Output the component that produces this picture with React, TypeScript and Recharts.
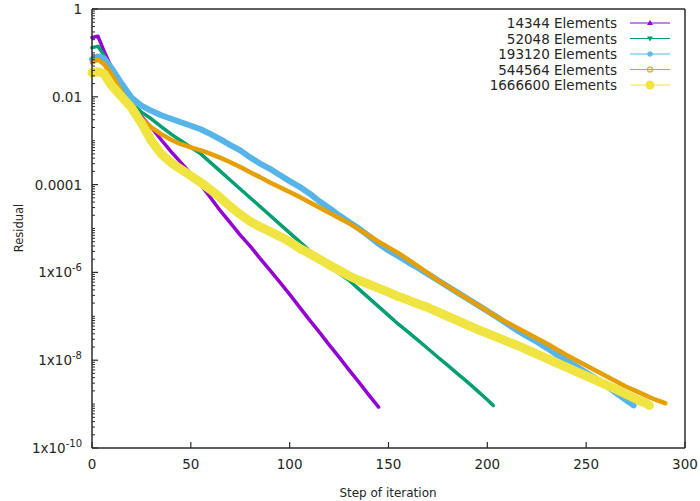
import React from 'react';
import { LineChart, Line, XAxis, YAxis } from 'recharts';

// ---------- data ----------
const SERIES_NAMES = ['14344 Elements', '52048 Elements', '193120 Elements', '544564 Elements', '1666600 Elements'];
const SERIES_COLORS = ['#9400d3', '#009e73', '#56b4e9', '#e69f00', '#f0e442'];

const STEPS_14344 = [0, 3, 6, 10, 15, 20, 25, 30, 35, 40, 45, 50, 55, 60, 65, 70, 75, 80, 85, 90, 95, 100, 105, 110, 115, 120, 125, 130, 135, 140, 145];
const RES_14344 = [2.24e-1, 2.4e-1, 1.12e-1, 4.47e-2, 1.58e-2, 6.31e-3, 3.55e-3, 2.0e-3, 1.05e-3, 5.62e-4, 3.16e-4, 1.78e-4, 1.0e-4, 5.01e-5, 2.51e-5, 1.35e-5, 7.08e-6, 3.98e-6, 2.09e-6, 1.12e-6, 6.03e-7, 3.16e-7, 1.62e-7, 8.32e-8, 4.37e-8, 2.24e-8, 1.17e-8, 6.03e-9, 3.16e-9, 1.62e-9, 8.51e-10];

const STEPS_52048 = [0, 3, 6, 10, 15, 20, 25, 30, 35, 40, 45, 50, 55, 60, 65, 70, 75, 80, 85, 90, 95, 100, 105, 110, 115, 120, 125, 130, 135, 140, 145, 150, 155, 160, 165, 170, 175, 180, 185, 190, 195, 200, 203];
const RES_52048 = [1.32e-1, 1.41e-1, 8.91e-2, 3.55e-2, 1.41e-2, 7.08e-3, 4.47e-3, 3.16e-3, 2.09e-3, 1.41e-3, 1.0e-3, 7.08e-4, 5.01e-4, 3.16e-4, 2.0e-4, 1.26e-4, 7.94e-5, 5.01e-5, 3.16e-5, 2.0e-5, 1.26e-5, 7.94e-6, 5.01e-6, 3.16e-6, 2.09e-6, 1.41e-6, 9.55e-7, 6.61e-7, 4.17e-7, 2.63e-7, 1.66e-7, 1.05e-7, 6.61e-8, 4.37e-8, 2.82e-8, 1.82e-8, 1.17e-8, 7.59e-9, 4.9e-9, 3.16e-9, 2.0e-9, 1.26e-9, 9.33e-10];

const STEPS_193120 = [0, 3, 6, 10, 15, 20, 25, 30, 35, 40, 45, 50, 55, 60, 65, 70, 75, 80, 85, 90, 95, 100, 105, 110, 115, 120, 125, 130, 135, 140, 145, 150, 155, 160, 165, 170, 175, 180, 185, 190, 195, 200, 205, 210, 215, 220, 225, 230, 235, 240, 245, 250, 255, 260, 265, 270, 274];
const RES_193120 = [7.08e-2, 8.32e-2, 7.59e-2, 4.47e-2, 2.0e-2, 9.55e-3, 6.31e-3, 4.79e-3, 3.8e-3, 3.16e-3, 2.63e-3, 2.19e-3, 1.82e-3, 1.41e-3, 1.07e-3, 7.94e-4, 6.03e-4, 4.17e-4, 3.02e-4, 2.29e-4, 1.66e-4, 1.2e-4, 8.91e-5, 6.31e-5, 4.17e-5, 2.95e-5, 2.0e-5, 1.41e-5, 1.0e-5, 6.76e-6, 4.47e-6, 3.16e-6, 2.34e-6, 1.7e-6, 1.26e-6, 9.12e-7, 6.61e-7, 4.79e-7, 3.47e-7, 2.51e-7, 1.82e-7, 1.32e-7, 9.55e-8, 6.76e-8, 4.79e-8, 3.55e-8, 2.63e-8, 1.91e-8, 1.35e-8, 1.0e-8, 7.24e-9, 5.25e-9, 3.8e-9, 2.63e-9, 1.82e-9, 1.26e-9, 9.33e-10];

const STEPS_544564 = [0, 3, 6, 10, 15, 20, 25, 30, 35, 40, 45, 50, 55, 60, 65, 70, 75, 80, 85, 90, 95, 100, 105, 110, 115, 120, 125, 130, 135, 140, 145, 150, 155, 160, 165, 170, 175, 180, 185, 190, 195, 200, 205, 210, 215, 220, 225, 230, 235, 240, 245, 250, 255, 260, 265, 270, 275, 280, 285, 290];
const RES_544564 = [6.03e-2, 7.08e-2, 5.62e-2, 3.16e-2, 1.26e-2, 5.62e-3, 3.16e-3, 2.0e-3, 1.41e-3, 1.05e-3, 8.32e-4, 7.08e-4, 6.03e-4, 5.01e-4, 4.07e-4, 3.24e-4, 2.51e-4, 1.91e-4, 1.48e-4, 1.12e-4, 8.71e-5, 6.76e-5, 5.25e-5, 3.98e-5, 3.02e-5, 2.29e-5, 1.74e-5, 1.32e-5, 9.55e-6, 6.92e-6, 5.01e-6, 3.72e-6, 2.75e-6, 1.95e-6, 1.38e-6, 9.55e-7, 6.61e-7, 4.79e-7, 3.47e-7, 2.51e-7, 1.82e-7, 1.32e-7, 9.55e-8, 7.24e-8, 5.5e-8, 4.17e-8, 3.16e-8, 2.4e-8, 1.78e-8, 1.32e-8, 1.0e-8, 7.59e-9, 5.75e-9, 4.37e-9, 3.31e-9, 2.51e-9, 2.0e-9, 1.58e-9, 1.26e-9, 1.05e-9];

const STEPS_1666600 = [0, 3, 6, 10, 15, 20, 25, 30, 35, 40, 45, 50, 55, 60, 65, 70, 75, 80, 85, 90, 95, 100, 105, 110, 115, 120, 125, 130, 135, 140, 145, 150, 155, 160, 165, 170, 175, 180, 185, 190, 195, 200, 205, 210, 215, 220, 225, 230, 235, 240, 245, 250, 255, 260, 265, 270, 275, 280, 282];
const RES_1666600 = [3.55e-2, 3.72e-2, 3.39e-2, 1.78e-2, 1.0e-2, 5.62e-3, 2.51e-3, 1.0e-3, 5.01e-4, 3.16e-4, 2.24e-4, 1.58e-4, 1.12e-4, 7.59e-5, 5.01e-5, 3.16e-5, 2.09e-5, 1.45e-5, 1.1e-5, 8.51e-6, 6.61e-6, 5.01e-6, 3.55e-6, 2.69e-6, 2.0e-6, 1.48e-6, 1.12e-6, 8.32e-7, 6.61e-7, 5.37e-7, 4.37e-7, 3.55e-7, 2.82e-7, 2.34e-7, 1.91e-7, 1.58e-7, 1.26e-7, 1.0e-7, 7.94e-8, 6.31e-8, 5.01e-8, 4.07e-8, 3.31e-8, 2.69e-8, 2.19e-8, 1.74e-8, 1.38e-8, 1.1e-8, 8.71e-9, 6.92e-9, 5.5e-9, 4.37e-9, 3.47e-9, 2.75e-9, 2.19e-9, 1.7e-9, 1.32e-9, 1.05e-9, 9.33e-10];

const X_TICKS = [0, 50, 100, 150, 200, 250, 300];
const Y_MAJOR_TICKS = [1, 1e-2, 1e-4, 1e-6, 1e-8, 1e-10];
const Y_TICK_BASE = ['1', '0.01', '0.0001', '1x10', '1x10', '1x10'];
const Y_TICK_EXP = ['', '', '', '-6', '-8', '-10'];

const X_TITLE = 'Step of iteration';
const Y_TITLE = 'Residual';

// ---------- derived ----------
const STEPS = [STEPS_14344, STEPS_52048, STEPS_193120, STEPS_544564, STEPS_1666600];
const RESIDUALS = [RES_14344, RES_52048, RES_193120, RES_544564, RES_1666600];
const SERIES_DATA = STEPS.map((st, s) => st.map((step, i) => ({ step, res: RESIDUALS[s][i] })));

const Y_MINOR_TICKS: number[] = [];
for (let n = -10; n <= -1; n++) {
  for (let k = 2; k <= 9; k++) Y_MINOR_TICKS.push(k * Math.pow(10, n));
  if (n % 2 !== 0) Y_MINOR_TICKS.push(Math.pow(10, n));
}
const Y_ALL_TICKS = [...Y_MAJOR_TICKS, ...Y_MINOR_TICKS].sort((a, b) => a - b);

// ---------- styles ----------
const FONT = "'DejaVu Sans', sans-serif";
const TEXT = '#262626';
const AXIS = '#2b2b2b';
const WIDTHS = [3.5, 3.5, 6, 4.5, 9];

const majorIndex = (v: number) => Y_MAJOR_TICKS.findIndex((m) => Math.abs(Math.log10(m) - Math.log10(v)) < 1e-6);

const LeftTick = (props: any) => {
  const { x, y, payload } = props;
  const idx = majorIndex(payload.value);
  if (idx < 0) {
    return <line x1={x} x2={x + 3} y1={y} y2={y} stroke={AXIS} strokeWidth={1} />;
  }
  return (
    <g>
      <line x1={x} x2={x + 6} y1={y} y2={y} stroke={AXIS} strokeWidth={1.2} />
      <text x={x - 10} y={y + 5} textAnchor="end" fontSize={13.5} fill={TEXT} fontFamily={FONT}>
        {Y_TICK_BASE[idx]}
        {Y_TICK_EXP[idx] ? (
          <tspan dy={-6} fontSize={10}>
            {Y_TICK_EXP[idx]}
          </tspan>
        ) : null}
      </text>
    </g>
  );
};

const RightTick = (props: any) => {
  const { x, y, payload } = props;
  const idx = majorIndex(payload.value);
  const len = idx < 0 ? 3 : 6;
  return <line x1={x} x2={x - len} y1={y} y2={y} stroke={AXIS} strokeWidth={idx < 0 ? 1 : 1.2} />;
};

const BottomTick = (props: any) => {
  const { x, y, payload } = props;
  return (
    <g>
      <line x1={x} x2={x} y1={y} y2={y - 6} stroke={AXIS} strokeWidth={1.2} />
      <text x={x} y={y + 21} textAnchor="middle" fontSize={13.5} fill={TEXT} fontFamily={FONT}>
        {payload.value}
      </text>
    </g>
  );
};

const TopTick = (props: any) => {
  const { x, y } = props;
  return <line x1={x} x2={x} y1={y} y2={y + 6} stroke={AXIS} strokeWidth={1.2} />;
};

const LegendMarker = ({ i, cx, cy }: { i: number; cx: number; cy: number }) => {
  const c = SERIES_COLORS[i];
  if (i === 0) return <polygon points={`${cx},${cy - 3} ${cx - 3},${cy + 2} ${cx + 3},${cy + 2}`} fill={c} />;
  if (i === 1) return <polygon points={`${cx},${cy + 3} ${cx - 3},${cy - 2} ${cx + 3},${cy - 2}`} fill={c} />;
  if (i === 2)
    return (
      <g stroke={c} strokeWidth={1.2}>
        <line x1={cx - 3} x2={cx + 3} y1={cy} y2={cy} />
        <line x1={cx} x2={cx} y1={cy - 3} y2={cy + 3} />
        <line x1={cx - 2} x2={cx + 2} y1={cy - 2} y2={cy + 2} />
        <line x1={cx - 2} x2={cx + 2} y1={cy + 2} y2={cy - 2} />
      </g>
    );
  if (i === 3) return <circle cx={cx} cy={cy} r={2.5} fill="none" stroke={c} strokeWidth={1.2} />;
  return <circle cx={cx} cy={cy} r={4.5} fill={c} />;
};

const LEGEND_ROWS = [23, 38.5, 54, 69.5, 85];

export default function App() {
  return (
    <div style={{ position: 'absolute', left: 0, top: 0, width: 700, height: 501, background: '#fff' }}>
      <LineChart width={700} height={501} margin={{ top: 8, right: 14, bottom: 52, left: 91 }}>
        <XAxis
          xAxisId="b"
          dataKey="step"
          type="number"
          domain={[0, 300]}
          ticks={X_TICKS}
          interval={0}
          height={1}
          tickSize={0}
          tickMargin={0}
          tickLine={false}
          axisLine={{ stroke: AXIS, strokeWidth: 1.5 }}
          tick={<BottomTick />}
        />
        <XAxis
          xAxisId="t"
          orientation="top"
          dataKey="step"
          type="number"
          domain={[0, 300]}
          ticks={X_TICKS}
          interval={0}
          height={1}
          tickSize={0}
          tickMargin={0}
          tickLine={false}
          axisLine={{ stroke: AXIS, strokeWidth: 1.5 }}
          tick={<TopTick />}
        />
        <YAxis
          yAxisId="l"
          scale="log"
          type="number"
          domain={[1e-10, 1]}
          ticks={Y_ALL_TICKS}
          interval={0}
          width={1}
          tickSize={0}
          tickMargin={0}
          tickLine={false}
          axisLine={{ stroke: AXIS, strokeWidth: 1.5 }}
          tick={<LeftTick />}
        />
        <YAxis
          yAxisId="r"
          orientation="right"
          scale="log"
          type="number"
          domain={[1e-10, 1]}
          ticks={Y_ALL_TICKS}
          interval={0}
          width={1}
          tickSize={0}
          tickMargin={0}
          tickLine={false}
          axisLine={{ stroke: AXIS, strokeWidth: 1.5 }}
          tick={<RightTick />}
        />
        {SERIES_DATA.map((d, i) => (
          <Line
            key={SERIES_NAMES[i]}
            data={d}
            xAxisId="b"
            yAxisId="l"
            dataKey="res"
            name={SERIES_NAMES[i]}
            type="linear"
            stroke={SERIES_COLORS[i]}
            strokeWidth={WIDTHS[i]}
            strokeLinejoin="round"
            strokeLinecap="round"
            dot={false}
            activeDot={false}
            isAnimationActive={false}
          />
        ))}
      </LineChart>
      <svg
        width={700}
        height={501}
        style={{ position: 'absolute', left: 0, top: 0, pointerEvents: 'none' }}
      >
        <text
          x={19}
          y={228}
          transform="rotate(-90 19 228)"
          textAnchor="middle"
          dominantBaseline="central"
          fontSize={11.5}
          fill={TEXT}
          fontFamily={FONT}
        >
          {Y_TITLE}
        </text>
        <text x={388} y={497} textAnchor="middle" fontSize={12} fill={TEXT} fontFamily={FONT}>
          {X_TITLE}
        </text>
        {SERIES_NAMES.map((name, i) => (
          <g key={name}>
            <text x={617} y={LEGEND_ROWS[i] + 5} textAnchor="end" fontSize={13.5} fill={TEXT} fontFamily={FONT}>
              {name}
            </text>
            <line x1={630} x2={670} y1={LEGEND_ROWS[i]} y2={LEGEND_ROWS[i]} stroke={SERIES_COLORS[i]} strokeWidth={1} />
            <LegendMarker i={i} cx={650} cy={LEGEND_ROWS[i]} />
          </g>
        ))}
      </svg>
    </div>
  );
}
